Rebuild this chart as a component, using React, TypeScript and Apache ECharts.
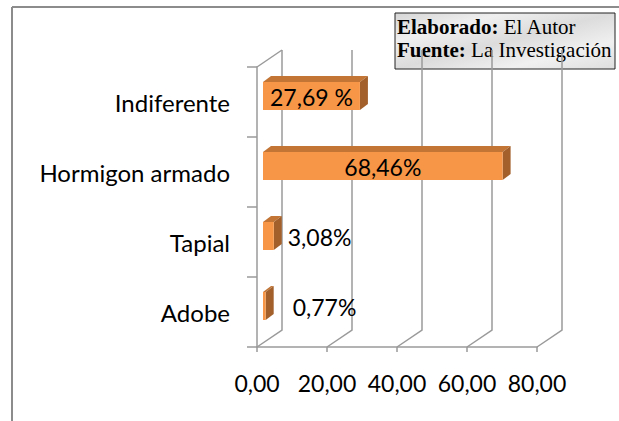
import React, { useEffect, useRef } from "react";
import * as echarts from "echarts";

const categories = ["Adobe", "Tapial", "Hormigon armado", "Indiferente"];
const values = [0.77, 3.08, 68.46, 27.69];
const valueLabels = ["0,77%", "3,08%", "68,46%", "27,69 %"];
const labelInside = [false, false, true, true];
const xTicks = [0, 20, 40, 60, 80];

const FONT = "Lato";
const DEPTH_X = 25;
const DEPTH_Y = -17;

export default function App() {
  const ref = useRef<HTMLDivElement>(null);
  useEffect(() => {
    const chart = echarts.init(ref.current!, null, { renderer: "svg" });
    const wallColor = "#9a9a9a";
    const serif = "Liberation Serif";

    const option: any = {
      animation: false,
      grid: { left: 257, top: 67, width: 280, height: 280, containLabel: false },
      xAxis: {
        type: "value",
        min: 0,
        max: 80,
        interval: 20,
        axisLine: { show: true, lineStyle: { color: wallColor, width: 1.5 } },
        axisTick: { show: true, length: 5, lineStyle: { color: wallColor, width: 1.5 } },
        splitLine: { show: false },
        axisLabel: {
          color: "#000",
          fontFamily: FONT,
          fontSize: 23,
          margin: 24,
          formatter: (v: number) => v.toFixed(2).replace(".", ","),
        },
      },
      yAxis: {
        type: "category",
        data: categories,
        axisLine: { show: true, lineStyle: { color: wallColor, width: 1.5 } },
        axisTick: { show: true, length: 10, lineStyle: { color: wallColor, width: 1.5 } },
        splitLine: { show: false },
        axisLabel: { color: "#000", fontFamily: FONT, fontSize: 24, margin: 27 },
      },
      series: [
        {
          type: "custom",
          silent: true,
          z: 1,
          data: [[0, 0]],
          renderItem: (params: any, api: any) => {
            const cs = params.coordSys;
            const top = cs.y;
            const bottom = cs.y + cs.height;
            const children: any[] = [];
            const lineStyle = { stroke: wallColor, lineWidth: 1.5, fill: null };
            xTicks.forEach((v) => {
              const p = api.coord([v, 0]);
              const x = p[0];
              children.push({
                type: "polyline",
                shape: {
                  points: [
                    [x, bottom],
                    [x + DEPTH_X, bottom + DEPTH_Y],
                    [x + DEPTH_X, top + DEPTH_Y],
                  ],
                },
                style: lineStyle,
              });
            });
            const x0 = api.coord([0, 0])[0];
            children.push({
              type: "line",
              shape: { x1: x0, y1: top, x2: x0 + DEPTH_X, y2: top + DEPTH_Y },
              style: lineStyle,
            });
            return { type: "group", children };
          },
        },
        {
          type: "custom",
          z: 3,
          data: values.map((v, i) => [v, i]),
          renderItem: (params: any, api: any) => {
            const v = api.value(0);
            const idx = api.value(1);
            const i = params.dataIndex;
            const p0 = api.coord([0, idx]);
            const p1 = api.coord([v, idx]);
            const band = api.size([0, 1])[1];
            const fx0 = p0[0] + 6;
            const fx1 = p1[0] + 6;
            const fy0 = p0[1] - band * 0.286;
            const fy1 = p0[1] + band * 0.114;
            const dx = 8;
            const dy = -6;
            const midY = (fy0 + fy1) / 2;
            const children: any[] = [
              {
                type: "polygon",
                shape: { points: [[fx0, fy0], [fx0 + dx, fy0 + dy], [fx1 + dx, fy0 + dy], [fx1, fy0]] },
                style: { fill: "#c27535" },
              },
              {
                type: "polygon",
                shape: { points: [[fx1, fy0], [fx1 + dx, fy0 + dy], [fx1 + dx, fy1 + dy], [fx1, fy1]] },
                style: { fill: "#a3602b" },
              },
              {
                type: "rect",
                shape: { x: fx0, y: fy0, width: fx1 - fx0, height: fy1 - fy0 },
                style: { fill: "#f79646" },
              },
            ];
            const inside = labelInside[i];
            children.push({
              type: "text",
              style: {
                text: valueLabels[i],
                x: inside ? (fx0 + fx1) / 2 : fx1 + dx + (i === 0 ? 19 : 6),
                y: midY + 1,
                align: inside ? "center" : "left",
                verticalAlign: "middle",
                fontFamily: FONT,
                fontSize: 23,
                fill: "#000",
              },
            });
            return { type: "group", children };
          },
        },
      ],
      graphic: [
        {
          type: "line",
          shape: { x1: 12, y1: 7, x2: 619, y2: 7 },
          style: { stroke: "#8c8c8c", lineWidth: 2 },
        },
        {
          type: "line",
          shape: { x1: 12, y1: 7, x2: 12, y2: 421 },
          style: { stroke: "#8c8c8c", lineWidth: 2 },
        },
        {
          type: "group",
          x: 395,
          y: 13,
          z: 100,
          children: [
            {
              type: "rect",
              shape: { x: 0, y: 0, width: 220, height: 56 },
              style: {
                fill: new echarts.graphic.LinearGradient(0, 0, 1, 1, [
                  { offset: 0, color: "#d6d6d6" },
                  { offset: 0.25, color: "#efefef" },
                  { offset: 0.5, color: "#dcdcdc" },
                  { offset: 0.75, color: "#f0f0f0" },
                  { offset: 1, color: "#dedede" },
                ]),
                stroke: "#222",
                lineWidth: 1,
              },
            },
            {
              type: "text",
              x: 2,
              y: 3,
              scaleX: 1.05,
              style: {
                text: "{b|Elaborado:} {n|El Autor}\n{b|Fuente:} {n|La Investigación}",
                verticalAlign: "top",
                lineHeight: 23,
                rich: {
                  b: { fontFamily: serif, fontWeight: "bold", fontSize: 20, lineHeight: 23, fill: "#000" },
                  n: { fontFamily: serif, fontSize: 20, lineHeight: 23, fill: "#000" },
                },
                fontFamily: serif,
                fontSize: 20,
                fill: "#000",
              },
            },
          ],
        },
      ],
    };
    chart.setOption(option);
    return () => chart.dispose();
  }, []);
  return (
    <div
      ref={ref}
      style={{ position: "fixed", left: 0, top: 0, width: 619, height: 421, background: "#fff" }}
    />
  );
}
